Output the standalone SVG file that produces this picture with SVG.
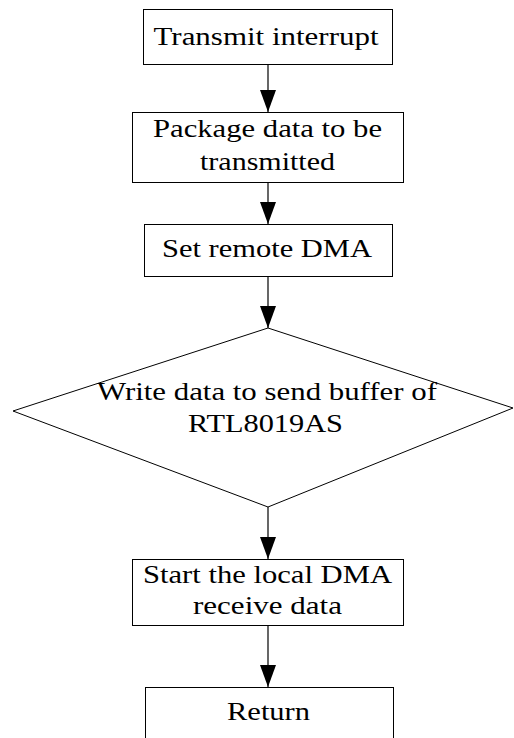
<svg xmlns="http://www.w3.org/2000/svg" width="514" height="738" viewBox="0 0 514 738">
  <style>
    .box { fill: #ffffff; stroke: #000000; stroke-width: 1; }
    .lbl { font-family: "Liberation Serif", "Times New Roman", serif; font-size: 26px; fill: #000000; text-anchor: middle; }
    .edge { stroke: #000000; stroke-width: 1.2; fill: none; marker-end: url(#arrow); }
  </style>
  <defs>
    <marker id="arrow" markerWidth="22" markerHeight="16" refX="22" refY="8" orient="auto" markerUnits="userSpaceOnUse" viewBox="0 0 22 16">
      <path d="M0,0 L22,8 L0,16 Z" fill="#000000"/>
    </marker>
  </defs>
  <rect width="514" height="738" fill="#ffffff"/>

  <g id="connectors">
    <line class="edge" x1="268" y1="64" x2="268" y2="112"/>
    <line class="edge" x1="268" y1="182" x2="268" y2="224"/>
    <line class="edge" x1="268" y1="276" x2="268" y2="328"/>
    <line class="edge" x1="268" y1="507" x2="268" y2="559"/>
    <line class="edge" x1="268" y1="625" x2="268" y2="687"/>
  </g>

  <!-- labels are set in a wide Times-style face: glyphs stretched to the measured line widths -->
  <g id="transmit-interrupt">
    <rect class="box" x="143.5" y="9.5" width="249" height="55"/>
    <text class="lbl" x="266" y="45" textLength="225" lengthAdjust="spacingAndGlyphs">Transmit interrupt</text>
  </g>

  <g id="package-data">
    <rect class="box" x="132.5" y="112.5" width="271" height="70"/>
    <text class="lbl" x="267.5" y="137" textLength="229" lengthAdjust="spacingAndGlyphs">Package data to be</text>
    <text class="lbl" x="267.5" y="170" textLength="135" lengthAdjust="spacingAndGlyphs">transmitted</text>
  </g>

  <g id="set-remote-dma">
    <rect class="box" x="144.5" y="224.5" width="248" height="52"/>
    <text class="lbl" x="267" y="257" textLength="210" lengthAdjust="spacingAndGlyphs">Set remote DMA</text>
  </g>

  <g id="write-data">
    <polygon class="box" points="268,328 513,408 268,507 13,411"/>
    <text class="lbl" x="267" y="400" textLength="340" lengthAdjust="spacingAndGlyphs">Write data to send buffer of</text>
    <text class="lbl" x="265.5" y="432" textLength="155" lengthAdjust="spacingAndGlyphs">RTL8019AS</text>
  </g>

  <g id="start-local-dma">
    <rect class="box" x="132.5" y="559.5" width="271" height="66"/>
    <text class="lbl" x="267.5" y="583" textLength="249" lengthAdjust="spacingAndGlyphs">Start the local DMA</text>
    <text class="lbl" x="267.5" y="614" textLength="149" lengthAdjust="spacingAndGlyphs">receive data</text>
  </g>

  <g id="return">
    <rect class="box" x="145.5" y="687.5" width="248" height="70"/>
    <text class="lbl" x="268.5" y="720" textLength="83" lengthAdjust="spacingAndGlyphs">Return</text>
  </g>
</svg>
